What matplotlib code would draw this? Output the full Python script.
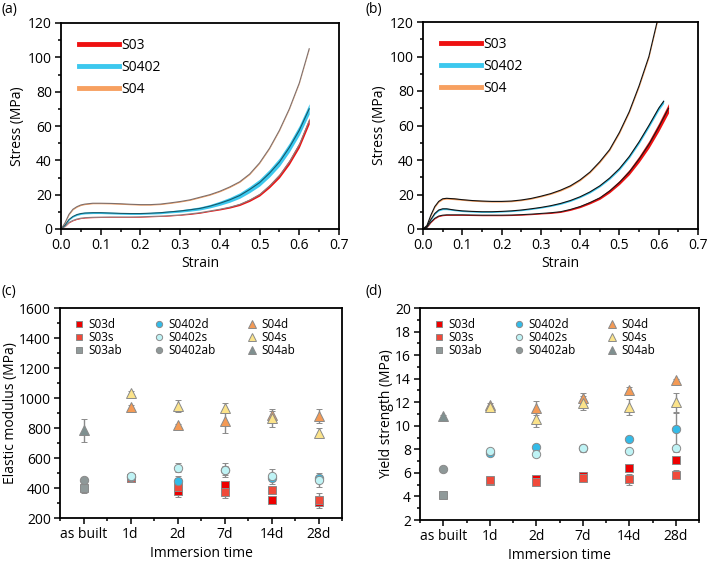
import numpy as np
import matplotlib
matplotlib.use("Agg")
import matplotlib.pyplot as plt
from matplotlib.ticker import MultipleLocator

plt.rcParams['font.family'] = ['Open Sans', 'DejaVu Sans']
plt.rcParams['font.size'] = 10

# ---- stress-strain curves (mean and band half-width)
strain = [0, 0.01, 0.02, 0.03, 0.04, 0.05, 0.06, 0.08, 0.1, 0.125, 0.15, 0.175, 0.2, 0.225, 0.25,
          0.275, 0.3, 0.325, 0.35, 0.375, 0.4, 0.425, 0.45, 0.475, 0.5, 0.525, 0.55, 0.575, 0.6, 0.625]

# panel (a)
a_s04 = [0, 3.5, 8.5, 11.5, 13, 14, 14.5, 15, 15, 14.9, 14.7, 14.4, 14.2, 14.2, 14.5,
         15.2, 16, 17, 18.5, 20, 22, 24.5, 27.5, 32, 38.5, 47, 57.5, 70, 85, 105]
a_s0402 = [0, 2.2, 5.5, 7.3, 8.4, 9, 9.3, 9.5, 9.5, 9.3, 9.1, 9, 9, 9.2, 9.5,
           10, 10.5, 11.2, 12, 13.3, 15, 17, 19.5, 23, 27, 32.5, 39, 47.5, 57.5, 70]
a_s03 = [0, 1.5, 3.8, 5, 5.8, 6.3, 6.6, 6.8, 6.9, 7, 7, 7, 7.1, 7.3, 7.5,
         7.8, 8.2, 8.8, 9.5, 10.5, 11.5, 12.7, 14.3, 16.8, 20, 25, 31, 39, 49, 63]
a_s04_sd = [0, 0.2, 0.3, 0.3, 0.3, 0.3, 0.3, 0.3, 0.3, 0.3, 0.3, 0.3, 0.3, 0.3, 0.3,
            0.3, 0.3, 0.3, 0.3, 0.3, 0.3, 0.3, 0.3, 0.3, 0.3, 0.3, 0.3, 0.3, 0.3, 0.3]
a_s0402_sd = [0, 0.3, 0.4, 0.4, 0.5, 0.5, 0.5, 0.5, 0.5, 0.5, 0.5, 0.5, 0.5, 0.5, 0.6,
              0.6, 0.7, 0.8, 0.9, 1.0, 1.2, 1.4, 1.6, 1.8, 2.0, 2.2, 2.4, 2.6, 2.8, 3.0]
a_s03_sd = [0, 0.1, 0.2, 0.2, 0.2, 0.2, 0.2, 0.2, 0.2, 0.2, 0.2, 0.2, 0.2, 0.2, 0.2,
            0.2, 0.2, 0.3, 0.3, 0.3, 0.4, 0.5, 0.6, 0.7, 0.8, 1.0, 1.2, 1.4, 1.6, 1.8]

# panel (b)
b_s04 = [0, 2, 8, 13, 16, 17.5, 17.8, 17.5, 17, 16.5, 16.2, 16, 16, 16.2, 16.8,
         17.7, 19, 20.5, 22.5, 25, 28.5, 33, 39, 46, 56, 68, 83, 100, 124, np.nan]
b_s0402 = [0, 1.5, 5.5, 9, 11, 11.7, 11.7, 11, 10.5, 10.2, 10, 10, 10.2, 10.5, 11,
           11.7, 12.5, 13.5, 14.8, 16.5, 18.7, 21.5, 25, 29.5, 35, 42, 50.5, 60, 70, 74]
b_s03 = [0, 1, 4, 6.2, 7.5, 8, 8.2, 8.2, 8.2, 8.1, 8, 8, 8, 8.1, 8.3,
         8.6, 9, 9.4, 10, 11.3, 13, 15.3, 18, 22, 27, 33, 40.5, 49, 59, 70]
b_s04_sd = [0, 0.3, 0.5, 0.5, 0.5, 0.5, 0.5, 0.5, 0.4, 0.4, 0.4, 0.4, 0.4, 0.4, 0.4,
            0.4, 0.4, 0.4, 0.5, 0.5, 0.5, 0.5, 0.6, 0.6, 0.7, 0.7, 0.8, 0.8, 0.8, 0.8]
b_s0402_sd = [0, 0.3, 0.4, 0.5, 0.5, 0.5, 0.5, 0.4, 0.4, 0.4, 0.4, 0.4, 0.4, 0.4, 0.4,
              0.4, 0.4, 0.4, 0.5, 0.5, 0.5, 0.6, 0.6, 0.7, 0.8, 0.9, 1.0, 1.1, 1.2, 1.2]
b_s03_sd = [0, 0.2, 0.3, 0.3, 0.3, 0.3, 0.3, 0.3, 0.3, 0.3, 0.3, 0.3, 0.3, 0.3, 0.3,
            0.3, 0.3, 0.4, 0.4, 0.5, 0.6, 0.7, 0.8, 1.0, 1.2, 1.5, 1.8, 2.1, 2.4, 2.7]
b_s0402_end = [0.6125]   # this sample fails slightly earlier

# ---- immersion data
times = ["as built", "1d", "2d", "7d", "14d", "28d"]

# elastic modulus (MPa), panel (c)
E_s03d = [np.nan, 465, 380, 420, 320, 310]
E_s03d_err = [0, 10, 15, 20, 10, 20]
E_s03s = [np.nan, 465, 410, 375, 385, 320]
E_s03s_err = [0, 10, 70, 40, 15, 50]
E_s03ab = [400, np.nan, np.nan, np.nan, np.nan, np.nan]
E_s03ab_err = [30, 0, 0, 0, 0, 0]
E_s0402d = [np.nan, 475, 450, 520, 465, 470]
E_s0402d_err = [0, 15, 20, 30, 20, 20]
E_s0402s = [np.nan, 480, 535, 520, 480, 455]
E_s0402s_err = [0, 15, 30, 45, 50, 45]
E_s0402ab = [455, np.nan, np.nan, np.nan, np.nan, np.nan]
E_s0402ab_err = [10, 0, 0, 0, 0, 0]
E_s04d = [np.nan, 940, 820, 850, 885, 880]
E_s04d_err = [0, 15, 10, 80, 30, 45]
E_s04s = [np.nan, 1035, 945, 935, 865, 770]
E_s04s_err = [0, 10, 40, 35, 60, 30]
E_s04ab = [785, np.nan, np.nan, np.nan, np.nan, np.nan]
E_s04ab_err = [75, 0, 0, 0, 0, 0]

# yield strength (MPa), panel (d)
Y_s03d = [np.nan, 5.3, 5.5, 5.7, 6.45, 7.1]
Y_s03d_err = [0, 0.1, 0.15, 0.15, 0.1, 0.1]
Y_s03s = [np.nan, 5.4, 5.25, 5.55, 5.45, 5.85]
Y_s03s_err = [0, 0.1, 0.2, 0.2, 0.45, 0.4]
Y_s03ab = [4.15, np.nan, np.nan, np.nan, np.nan, np.nan]
Y_s03ab_err = [0.1, 0, 0, 0, 0, 0]
Y_s0402d = [np.nan, 7.7, 8.2, 8.1, 8.9, 9.7]
Y_s0402d_err = [0, 0.1, 0.1, 0.3, 0.1, 1.4]
Y_s0402s = [np.nan, 7.9, 7.6, 8.1, 7.9, 8.1]
Y_s0402s_err = [0, 0.1, 0.1, 0.2, 0.1, 0.3]
Y_s0402ab = [6.3, np.nan, np.nan, np.nan, np.nan, np.nan]
Y_s0402ab_err = [0.1, 0, 0, 0, 0, 0]
Y_s04d = [np.nan, 11.8, 11.5, 12.4, 13.0, 13.9]
Y_s04d_err = [0, 0.1, 0.6, 0.4, 0.3, 0.1]
Y_s04s = [np.nan, 11.6, 10.6, 11.9, 11.6, 12.0]
Y_s04s_err = [0, 0.1, 0.7, 0.6, 0.65, 0.8]
Y_s04ab = [10.85, np.nan, np.nan, np.nan, np.nan, np.nan]
Y_s04ab_err = [0.1, 0, 0, 0, 0, 0]

red = "#ee1111"
blue = "#3cc8ee"
orange = "#f7a060"

fig = plt.figure(figsize=(7.09, 5.64), dpi=100)
W, H = 709, 564


def add_ax(l, t, r, b):
    return fig.add_axes([l / W, 1 - b / H, (r - l) / W, (b - t) / H])


def style(ax):
    for sp in ax.spines.values():
        sp.set_linewidth(1.3)
    ax.tick_params(which="both", direction="out", top=False, right=False, width=1.1, labelsize=10)
    ax.tick_params(which="major", length=4.5, pad=2)
    ax.tick_params(which="minor", length=2.5)


def stress_panel(ax, curves):
    for x, y, sd, col, edge, lab in curves:
        y = np.array(y, dtype=float)
        sd = np.array(sd, dtype=float)
        ax.fill_between(x, y - sd, y + sd, color=col, lw=0)
        ax.plot(x, y, color=edge, lw=0.8)
        ax.plot([], [], color=col, lw=3.5, label=lab)
    ax.set_xlim(0, 0.7)
    ax.set_ylim(0, 120)
    ax.xaxis.set_major_locator(MultipleLocator(0.1))
    ax.xaxis.set_minor_locator(MultipleLocator(0.05))
    ax.yaxis.set_major_locator(MultipleLocator(20))
    ax.yaxis.set_minor_locator(MultipleLocator(10))
    ax.set_xlabel("Strain", labelpad=2)
    ax.set_ylabel("Stress (MPa)", labelpad=2)
    ax.legend(loc="upper left", bbox_to_anchor=(0.045, 0.955), frameon=False, handlelength=2.9,
              handletextpad=0.15, labelspacing=0.5, fontsize=10, borderaxespad=0)
    style(ax)


ax_a = add_ax(61, 23, 339, 229)
stress_panel(ax_a, [
    (strain, a_s03, a_s03_sd, red, "#8a7c7c", "S03"),
    (strain, a_s0402, a_s0402_sd, blue, "#15586a", "S0402"),
    (strain, a_s04, a_s04_sd, orange, "#7e6e6a", "S04"),
])

ax_b = add_ax(423, 22, 698, 229)
stress_panel(ax_b, [
    (strain, b_s03, b_s03_sd, red, "#1a1a1a", "S03"),
    (strain[:-1] + b_s0402_end, b_s0402, b_s0402_sd, blue, "#111111", "S0402"),
    (strain, b_s04, b_s04_sd, orange, "#111111", "S04"),
])

series_style = [
    ("S03d", "s", "#ee0000"),
    ("S03s", "s", "#f04a3a"),
    ("S03ab", "s", "#909a9a"),
    ("S0402d", "o", "#33bbe8"),
    ("S0402s", "o", "#bff3f5"),
    ("S0402ab", "o", "#8e9898"),
    ("S04d", "^", "#f49a55"),
    ("S04s", "^", "#fbe38a"),
    ("S04ab", "^", "#7f9090"),
]


def scatter_panel(ax, data, ylim, major, ylabel):
    xs = np.arange(len(times))
    for (lab, mk, col), (vals, err) in zip(series_style, data):
        ax.errorbar(xs, vals, yerr=err, fmt=mk, ms=6 if mk != "^" else 7, mfc=col,
                    mec="#8a8a8a", mew=0.7, ecolor="#8a8a8a", elinewidth=1.0, capsize=2.5,
                    capthick=1.0, label=lab)
    ax.set_xlim(-0.5, 5.5)
    ax.set_xticks(xs)
    ax.set_xticklabels(times)
    ax.xaxis.set_minor_locator(MultipleLocator(0.5))
    ax.set_ylim(*ylim)
    ax.yaxis.set_major_locator(MultipleLocator(major))
    ax.yaxis.set_minor_locator(MultipleLocator(major / 2))
    ax.set_xlabel("Immersion time", labelpad=3)
    ax.set_ylabel(ylabel, labelpad=1)
    handles, labels = ax.get_legend_handles_labels()
    handles = [h[0] for h in handles]
    ax.legend(handles, labels, ncol=3, loc="upper left", bbox_to_anchor=(0.03, 0.975),
              frameon=False, fontsize=8.5, handlelength=1.0, handletextpad=0.3,
              labelspacing=0.0, columnspacing=2.6, markerscale=0.75, borderaxespad=0)
    style(ax)


ax_c = add_ax(60, 308, 342, 518)
scatter_panel(ax_c, [
    (E_s03d, E_s03d_err), (E_s03s, E_s03s_err), (E_s03ab, E_s03ab_err),
    (E_s0402d, E_s0402d_err), (E_s0402s, E_s0402s_err), (E_s0402ab, E_s0402ab_err),
    (E_s04d, E_s04d_err), (E_s04s, E_s04s_err), (E_s04ab, E_s04ab_err),
], (200, 1600), 200, "Elastic modulus (MPa)")

ax_d = add_ax(420, 308, 699, 520)
scatter_panel(ax_d, [
    (Y_s03d, Y_s03d_err), (Y_s03s, Y_s03s_err), (Y_s03ab, Y_s03ab_err),
    (Y_s0402d, Y_s0402d_err), (Y_s0402s, Y_s0402s_err), (Y_s0402ab, Y_s0402ab_err),
    (Y_s04d, Y_s04d_err), (Y_s04s, Y_s04s_err), (Y_s04ab, Y_s04ab_err),
], (2, 20), 2, "Yield strength (MPa)")

for txt, x, y in [("(a)", 2, 10), ("(b)", 366, 10), ("(c)", 2, 292), ("(d)", 366, 292)]:
    fig.text(x / W, 1 - y / H, txt, fontsize=10, va="center", ha="left")

fig.savefig("out.png", dpi=100)
